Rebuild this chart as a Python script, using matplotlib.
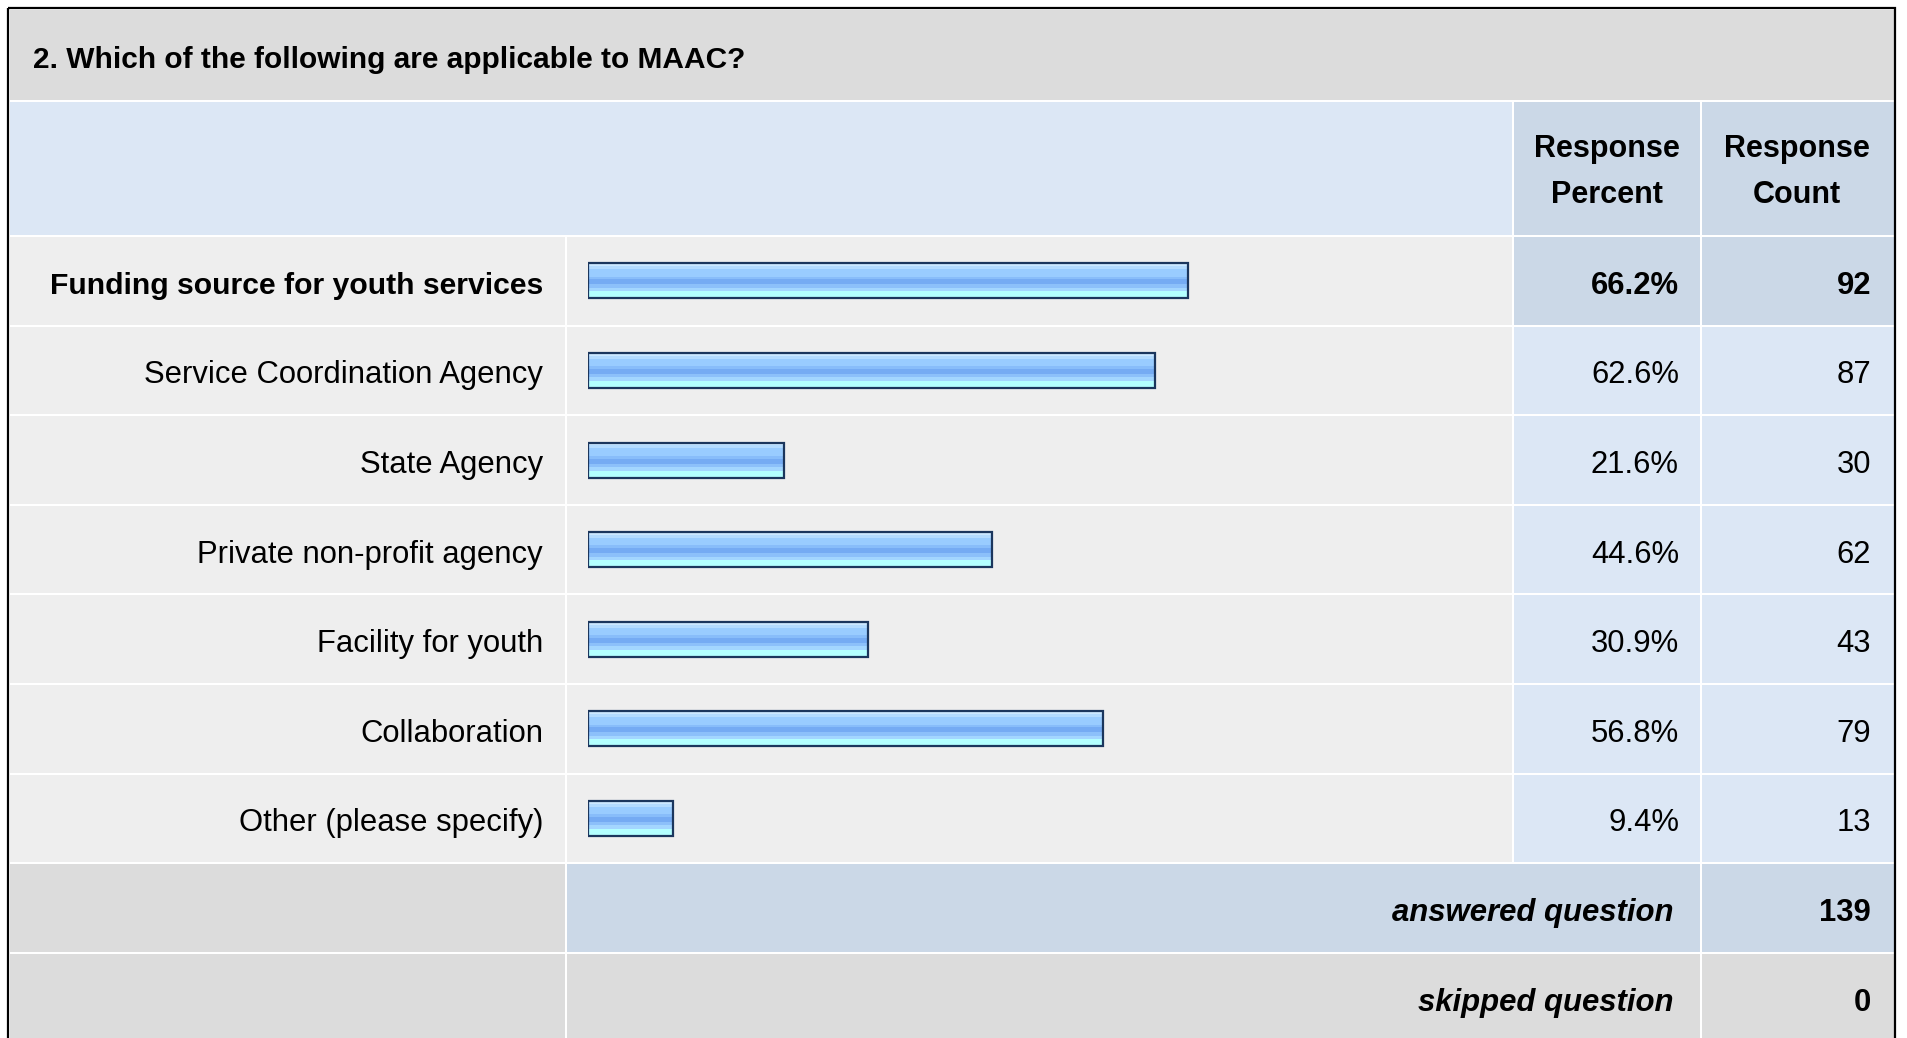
import numpy as np
import matplotlib.pyplot as plt
from matplotlib.patches import Rectangle

plt.rcParams['font.family'] = ['Liberation Sans', 'DejaVu Sans']

title = "2. Which of the following are applicable to MAAC?"
labels = ["Funding source for youth services", "Service Coordination Agency", "State Agency",
          "Private non-profit agency", "Facility for youth", "Collaboration", "Other (please specify)"]
percents = [66.2, 62.6, 21.6, 44.6, 30.9, 56.8, 9.4]
counts = [92, 87, 30, 62, 43, 79, 13]
answered = 139
skipped = 0

W, H = 1907, 1038
fig = plt.figure(figsize=(W / 100, H / 100), dpi=100)
ax = fig.add_axes([0, 0, 1, 1])
ax.set_xlim(0, W)
ax.set_ylim(H, 0)
ax.axis('off')

# colours
gray_dark = '#dcdcdc'
gray_light = '#eeeeee'
blue_light = '#dce7f5'
blue_mid = '#cbd8e7'

def cell(x0, x1, y0, y1, c):
    ax.add_patch(Rectangle((x0, y0), x1 - x0, y1 - y0, facecolor=c, edgecolor='none'))

# column edges (pixels)
L0, L1 = 10, 565
B0, B1 = 567, 1512
P0, P1 = 1514, 1700
C0, C1 = 1702, 1894
row_top = 236
rh = 89.6
n = len(labels)

# title + header
cell(L0, C1, 10, 100, gray_dark)
cell(L0, B1, 102, row_top - 1, blue_light)
cell(P0, P1, 102, row_top - 1, blue_mid)
cell(C0, C1, 102, row_top - 1, blue_mid)
ax.text(33, 68, title, fontsize=21.5, fontweight='bold', va='baseline', ha='left')
for xc, word in [((P0 + P1) / 2, "Percent"), ((C0 + C1) / 2 - 1, "Count")]:
    ax.text(xc, 157, "Response", fontsize=22, fontweight='bold', ha='center', va='baseline')
    ax.text(xc, 203, word, fontsize=22, fontweight='bold', ha='center', va='baseline')

# rows
for i in range(n):
    y0 = row_top + i * rh + 1
    y1 = row_top + (i + 1) * rh - 1
    yc = (y0 + y1) / 2
    side = blue_mid if i == 0 else blue_light
    cell(L0, L1, y0, y1, gray_light)
    cell(B0, B1, y0, y1, gray_light)
    cell(P0, P1, y0, y1, side)
    cell(C0, C1, y0, y1, side)
    wt = 'bold' if i == 0 else 'normal'
    fs = 21.7 if i == 0 else 22.3
    ax.text(543, yc + 13, labels[i], fontsize=fs, fontweight=wt, ha='right', va='baseline')
    ax.text(1679, yc + 13, f"{percents[i]:.1f}%", fontsize=22.3, fontweight=wt, ha='right', va='baseline')
    ax.text(1871, yc + 13, str(counts[i]), fontsize=22.3, fontweight=wt, ha='right', va='baseline')

# summary rows
ya = row_top + n * rh + 1
cell(L0, L1, ya, ya + rh - 2, gray_dark)
cell(B0, P1, ya, ya + rh - 2, blue_mid)
cell(C0, C1, ya, ya + rh - 2, blue_mid)
ax.text(1673, ya + rh / 2 + 12, "answered question", fontsize=22.4, fontweight='bold', style='italic',
        ha='right', va='baseline')
ax.text(1871, ya + rh / 2 + 12, str(answered), fontsize=22.3, fontweight='bold', ha='right', va='baseline')
ys = ya + rh
cell(L0, L1, ys, H + 5, gray_dark)
cell(B0, P1, ys, H + 5, gray_dark)
cell(C0, C1, ys, H + 5, gray_dark)
ax.text(1673, ys + rh / 2 + 12, "skipped question", fontsize=22.4, fontweight='bold', style='italic',
        ha='right', va='baseline')
ax.text(1871, ys + rh / 2 + 12, str(skipped), fontsize=22.3, fontweight='bold', ha='right', va='baseline')

# outer frame
ax.add_patch(Rectangle((8, 8), 1887, H + 10, facecolor='none', edgecolor='black', lw=1.6))

# bars in their own axes, 0..100 percent
bax = fig.add_axes([588 / W, 1 - (row_top + n * rh) / H, 906 / W, n * rh / H])
bax.set_xlim(0, 100)
bax.set_ylim(n - 0.5, -0.5)
bax.axis('off')
bax.patch.set_visible(False)
ypos = np.arange(n)
bh = 35 / rh
stripes = [(0.00, 0.08, '#cce8ff'), (0.08, 0.17, '#b3dbff'), (0.17, 0.38, '#99ccff'),
           (0.38, 0.46, '#88bdfa'), (0.46, 0.60, '#75abf3'), (0.60, 0.70, '#8cc0fa'),
           (0.70, 0.80, '#a3d6ff'), (0.80, 1.00, '#b3ffff')]
for t0, t1, c in stripes:
    bax.barh(ypos - bh / 2 + (t0 + t1) / 2 * bh, percents, height=(t1 - t0) * bh,
             color=c, edgecolor='none', linewidth=0)
bax.barh(ypos, percents, height=bh, fill=False, edgecolor='#1b365d', linewidth=1.6)

fig.savefig('out.png', dpi=100)
